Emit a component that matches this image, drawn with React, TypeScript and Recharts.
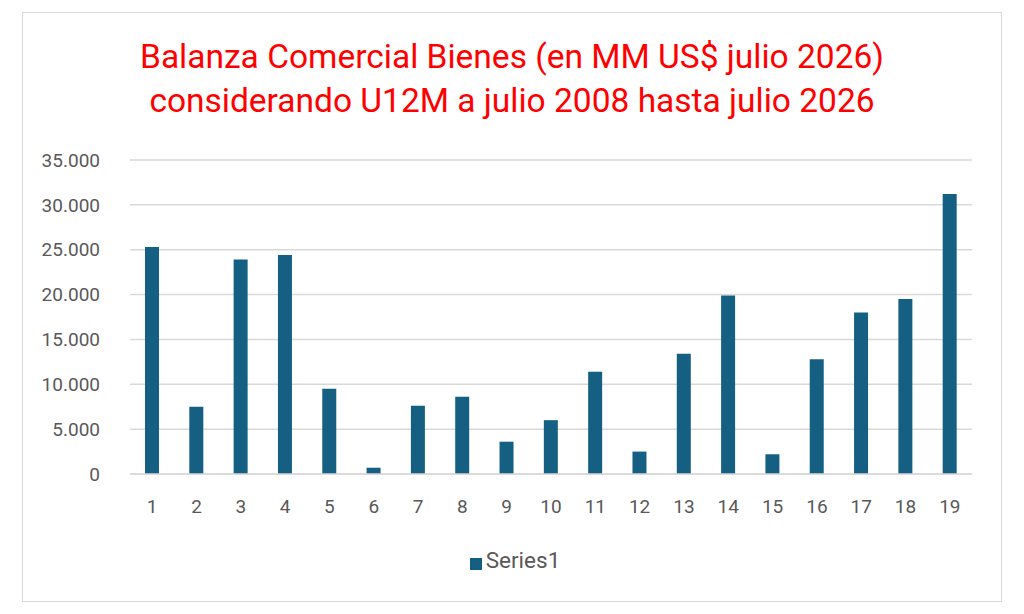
import { BarChart, Bar, XAxis, YAxis, CartesianGrid, Legend } from 'recharts'

const periods = ['1', '2', '3', '4', '5', '6', '7', '8', '9', '10', '11', '12', '13', '14', '15', '16', '17', '18', '19']
const series1 = [25300, 7500, 23900, 24400, 9500, 700, 7600, 8600, 3600, 6000, 11400, 2500, 13400, 19900, 2200, 12800, 18000, 19500, 31200]
const yTicks = [0, 5000, 10000, 15000, 20000, 25000, 30000, 35000]

const data = periods.map((p, i) => ({ periodo: p, Series1: series1[i] }))

const fmt = (v: number) => String(v).replace(/\B(?=(\d{3})+(?!\d))/g, '.')

const font = 'Roboto, "Noto Sans", sans-serif'
const grey = '#595959'

export default function App() {
  return (
    <div
      style={{
        position: 'relative',
        width: 978,
        height: 588,
        margin: '4px 0 0 14px',
        border: '1px solid #d9d9d9',
        background: '#fff',
        fontFamily: font,
      }}
    >
      <div
        style={{
          position: 'absolute',
          top: 22,
          left: 0,
          width: '100%',
          textAlign: 'center',
          color: '#ff0000',
          fontSize: 33.5,
          lineHeight: '44px',
        }}
      >
        Balanza Comercial Bienes (en MM US$ julio 2026)
        <br />
        considerando U12M a julio 2008 hasta julio 2026
      </div>
      <BarChart width={978} height={588} data={data} margin={{ top: 147, right: 29, bottom: 97, left: 47 }}>
        <CartesianGrid vertical={false} stroke="#d9d9d9" strokeWidth={1.5} />
        <XAxis
          dataKey="periodo"
          height={30}
          tickLine={false}
          axisLine={{ stroke: '#d9d9d9', strokeWidth: 1.5 }}
          tickMargin={20}
          tick={{ fontSize: 19, fill: grey, fontFamily: font }}
          interval={0}
        />
        <YAxis
          width={60}
          domain={[0, 35000]}
          ticks={yTicks}
          tickFormatter={fmt}
          tickLine={false}
          axisLine={false}
          tickMargin={24}
          tick={{ fontSize: 19, fill: grey, fontFamily: font }}
        />
        <Legend
          verticalAlign="middle"
          align="center"
          iconType="square"
          iconSize={12}
          wrapperStyle={{ top: 534, left: 8, width: 978 }}
          formatter={(value) => <span style={{ color: grey, fontSize: 22.5 }}>{value}</span>}
        />
        <Bar dataKey="Series1" fill="#156082" barSize={14} isAnimationActive={false} />
      </BarChart>
    </div>
  )
}
